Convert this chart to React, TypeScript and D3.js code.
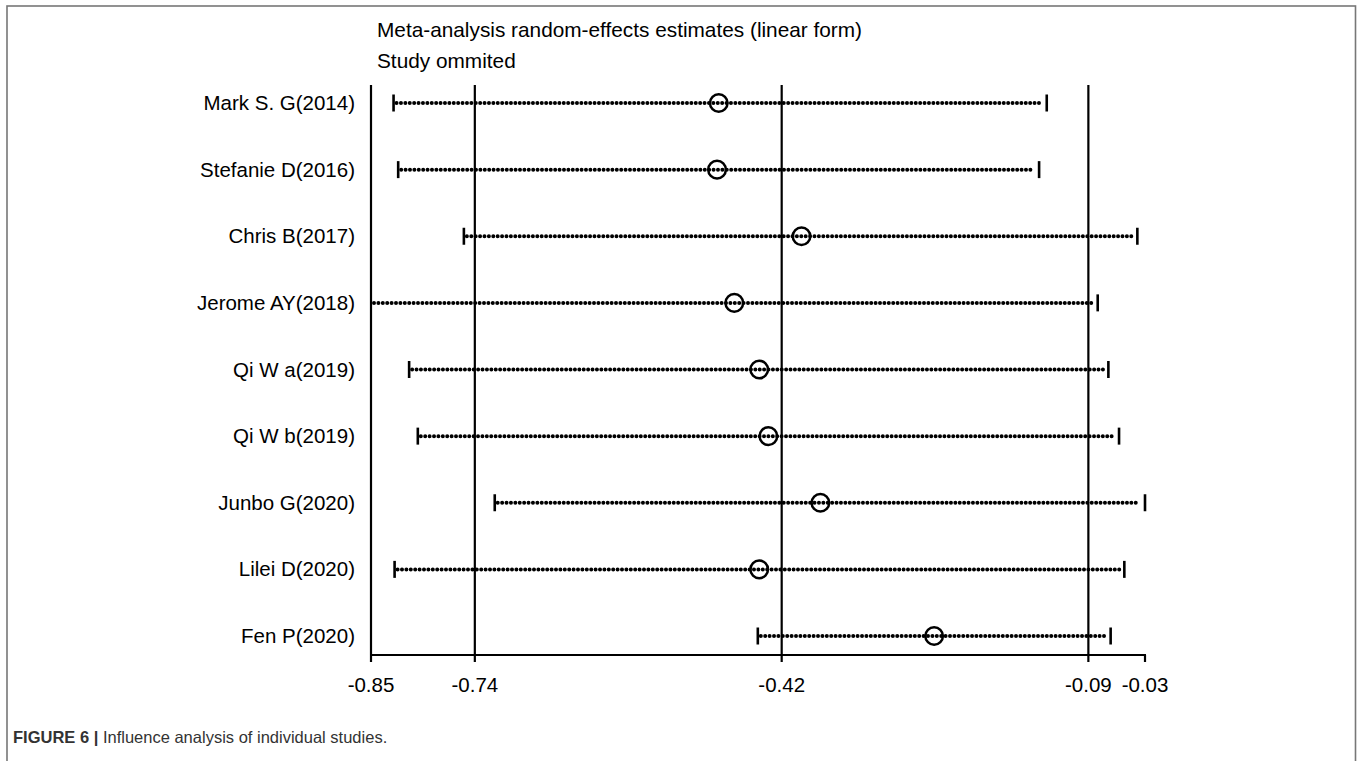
import React from "react";
import * as d3 from "d3";

const studies = [
  "Mark S. G(2014)",
  "Stefanie D(2016)",
  "Chris B(2017)",
  "Jerome AY(2018)",
  "Qi W a(2019)",
  "Qi W b(2019)",
  "Junbo G(2020)",
  "Lilei D(2020)",
  "Fen P(2020)",
];
const estimates = [-0.4816, -0.4834, -0.3939, -0.4651, -0.4387, -0.429, -0.3739, -0.4387, -0.2534];
const lowerCI = [-0.8261, -0.8212, -0.7516, -0.8525, -0.8096, -0.8004, -0.7189, -0.825, -0.4402];
const upperCI = [-0.1341, -0.1422, -0.0381, -0.0801, -0.0688, -0.0575, -0.03, -0.0519, -0.0664];
// reference lines: lower CI, pooled estimate, upper CI
const refLines = [-0.74, -0.4149, -0.09];
const tickValues = [-0.85, -0.74, -0.4149, -0.09, -0.03];
const tickLabels = ["-0.85", "-0.74", "-0.42", "-0.09", "-0.03"];
const titleLines = ["Meta-analysis random-effects estimates (linear form)", "Study ommited"];

const W = 1360;
const H = 761;
const FONT = "'Liberation Sans', Arial, Helvetica, sans-serif";

export default function App() {
  const x = d3.scaleLinear().domain([-0.85, -0.03]).range([371, 1145]);
  const y = d3.scalePoint<string>().domain(studies).range([103, 636]);
  const axisY = 655;
  const top = 85;
  const xMin = -0.85;

  return (
    <svg
      width={W}
      height={H}
      style={{ position: "absolute", left: 0, top: 0, background: "#fff" }}
      fontFamily={FONT}
    >
      <rect x={7} y={6} width={1348.5} height={H + 20} fill="#fff" stroke="#777" strokeWidth={1.6} />
      {titleLines.map((t, i) => (
        <text key={t} x={377} y={37 + i * 31} fontSize={20.8} fill="#000">
          {t}
        </text>
      ))}
      <line x1={x(xMin)} x2={x(xMin)} y1={top} y2={axisY} stroke="#000" strokeWidth={2.2} />
      {refLines.map((v) => (
        <line key={v} x1={x(v)} x2={x(v)} y1={top} y2={axisY} stroke="#000" strokeWidth={2.2} />
      ))}
      {studies.map((s, i) => {
        const yy = y(s)!;
        const lo = lowerCI[i];
        const hi = upperCI[i];
        const x0 = x(Math.max(lo, xMin));
        const x1 = x(hi);
        return (
          <g key={s}>
            <text x={355} y={yy + 7} fontSize={20.5} textAnchor="end" fill="#000">
              {s}
            </text>
            <line
              x1={x0 + 3}
              x2={x1 - 5}
              y1={yy}
              y2={yy}
              stroke="#000"
              strokeWidth={4}
              strokeLinecap="round"
              strokeDasharray="0 4.4"
            />
            {lo >= xMin && (
              <line x1={x(lo)} x2={x(lo)} y1={yy - 8.5} y2={yy + 8.5} stroke="#000" strokeWidth={2.6} />
            )}
            <line x1={x1} x2={x1} y1={yy - 8.5} y2={yy + 8.5} stroke="#000" strokeWidth={2.6} />
            <circle cx={x(estimates[i])} cy={yy} r={8.8} fill="none" stroke="#000" strokeWidth={2.5} />
          </g>
        );
      })}
      <line x1={x(-0.85) - 1} x2={x(-0.03) + 1} y1={axisY} y2={axisY} stroke="#000" strokeWidth={2.2} />
      {tickValues.map((v, i) => (
        <g key={v}>
          <line x1={x(v)} x2={x(v)} y1={axisY} y2={axisY + 7} stroke="#000" strokeWidth={2.2} />
          <text x={x(v)} y={axisY + 37} fontSize={20.5} textAnchor="middle" fill="#000">
            {tickLabels[i]}
          </text>
        </g>
      ))}
      <text x={13} y={743} fontSize={16.5} fill="#333">
        <tspan fontWeight="bold">FIGURE 6 | </tspan>
        <tspan>Influence analysis of individual studies.</tspan>
      </text>
    </svg>
  );
}
